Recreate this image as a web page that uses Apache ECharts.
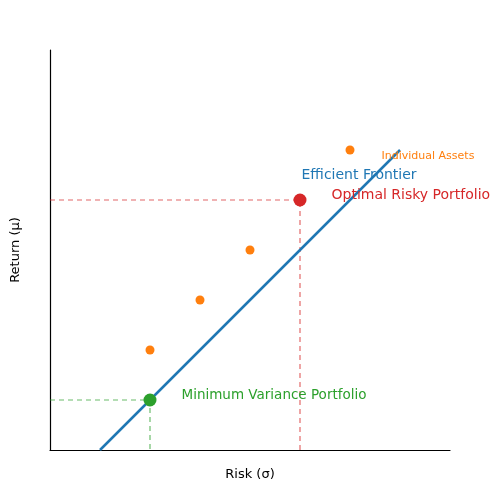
<!DOCTYPE html>
<html><head><meta charset="utf-8">
<script src="https://cdn.jsdelivr.net/npm/echarts@6/dist/echarts.min.js"></script>
<style>html,body{margin:0;padding:0}#c{width:500px;height:500px}</style>
</head><body><div id="c"></div>
<script>
const frontier = [[1,0],[7,6]];
const assets = [[2,2],[3,3],[4,4],[6,6]];
const optimal = [5,5];
const minVar = [2,1];
const F = 'DejaVu Sans';
const chart = echarts.init(document.getElementById('c'));
const dash = (data, color) => ({type:'line', data, symbol:'none', silent:true,
  lineStyle:{color, type:[5,4], width:1.2, opacity:0.7}, z:1});
const note = (coord, text, color, size) => ({coord, symbol:'circle', symbolSize:1,
  itemStyle:{color:'rgba(0,0,0,0)'},
  label:{show:true,formatter:text,position:'right',offset:[-4,0],color,fontFamily:F,fontSize:size}});
chart.setOption({
  animation:false,
  grid:{left:50,right:50,top:50,bottom:50},
  xAxis:{type:'value',min:0,max:8,name:'Risk (σ)',nameLocation:'middle',nameGap:18,
    nameTextStyle:{fontFamily:F,fontSize:13,color:'#000'},
    axisLine:{lineStyle:{color:'#000',width:1.2}},axisTick:{show:false},axisLabel:{show:false},splitLine:{show:false}},
  yAxis:{type:'value',min:0,max:8,name:'Return (μ)',nameLocation:'middle',nameGap:28,
    nameTextStyle:{fontFamily:F,fontSize:13,color:'#000'},
    axisLine:{show:true,lineStyle:{color:'#000',width:1.2}},axisTick:{show:false},axisLabel:{show:false},splitLine:{show:false}},
  series:[
    dash([[0,optimal[1]],optimal,[optimal[0],0]],'#d62728'),
    dash([[0,minVar[1]],minVar,[minVar[0],0]],'#2ca02c'),
    {type:'line',data:frontier,symbol:'none',lineStyle:{color:'#1f77b4',width:2.5},z:2,
      markPoint:{data:[note([5,5.5],'Efficient Frontier','#1f77b4',14)]}},
    {type:'scatter',data:assets,symbolSize:9,itemStyle:{color:'#ff7f0e',opacity:1},z:3,
      markPoint:{data:[note([6.6,5.88],'Individual Assets','#ff7f0e',11)]}},
    {type:'scatter',data:[optimal],symbolSize:13,itemStyle:{color:'#d62728',opacity:1},z:4,
      label:{show:true,formatter:'Optimal Risky Portfolio',position:'right',offset:[20,-5],color:'#d62728',fontFamily:F,fontSize:14}},
    {type:'scatter',data:[minVar],symbolSize:13,itemStyle:{color:'#2ca02c',opacity:1},z:4,
      label:{show:true,formatter:'Minimum Variance Portfolio',position:'right',offset:[20,-5],color:'#2ca02c',fontFamily:F,fontSize:13.5}}
  ]
});
</script></body></html>
